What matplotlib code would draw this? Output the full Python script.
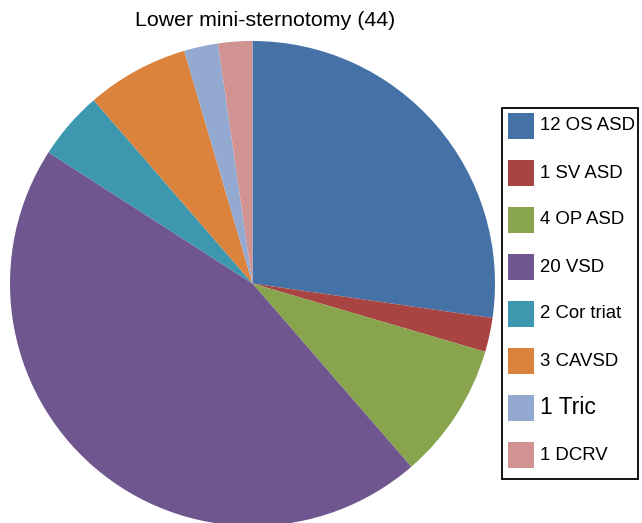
import matplotlib
matplotlib.use("Agg")
import matplotlib.pyplot as plt
from matplotlib.patches import Rectangle

plt.rcParams['font.family'] = ['Liberation Sans', 'DejaVu Sans']

title = "Lower mini-sternotomy (44)"
categories = ["OS ASD", "SV ASD", "OP ASD", "VSD", "Cor triat", "CAVSD", "Tric", "DCRV"]
counts = [12, 1, 4, 20, 2, 3, 1, 1]
colors = ["#4472A6", "#A84442", "#88A54E", "#6F568E", "#3D98AF", "#DB833C", "#93A9D0", "#D09392"]
label_sizes = [13.4, 13.4, 13.4, 13.4, 13.4, 13.4, 16.5, 13.4]

W, H = 642, 523
fig = plt.figure(figsize=(W / 100, H / 100), dpi=100)

cx, cy, r = 252.5, 283.5, 242.5
ax = fig.add_axes([(cx - r) / W, (H - cy - r) / H, 2 * r / W, 2 * r / H])
ax.pie(counts, colors=colors, startangle=90, counterclock=False, radius=1,
       wedgeprops=dict(linewidth=0))
ax.set_xlim(-1, 1)
ax.set_ylim(-1, 1)
ax.set_aspect('auto')
ax.axis('off')

fig.text(265 / W, 1 - 21 / H, title, ha='center', va='center', fontsize=15.4)

# legend box
lx0, ly0, lx1, ly1 = 502, 108, 638, 479
fig.patches.append(Rectangle((lx0 / W, 1 - ly1 / H), (lx1 - lx0) / W, (ly1 - ly0) / H,
                             transform=fig.transFigure, facecolor='white',
                             edgecolor='black', linewidth=1.3))
for i, (n, cat, col, fs) in enumerate(zip(counts, categories, colors, label_sizes)):
    top = 113 + i * 47
    fig.patches.append(Rectangle((508 / W, 1 - (top + 26) / H), 26 / W, 26 / H,
                                 transform=fig.transFigure, facecolor=col, linewidth=0))
    fig.text(540 / W, 1 - (top + 13) / H, f"{n} {cat}", ha='left', va='center', fontsize=fs)

fig.savefig("out.png", dpi=100)
